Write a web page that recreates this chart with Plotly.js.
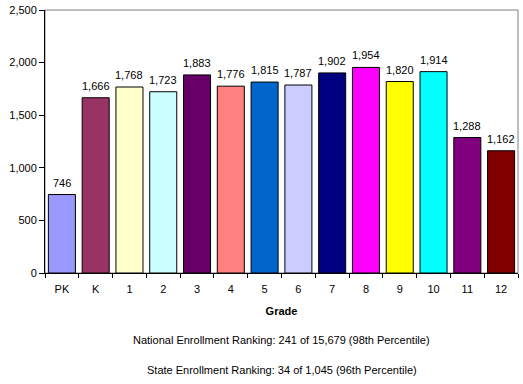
<!DOCTYPE html>
<html><head><meta charset="utf-8">
<script src="https://cdn.plot.ly/plotly-3.0.1.min.js"></script>
<style>html,body{margin:0;padding:0;background:#fff}</style>
</head><body>
<div id="chart" style="width:523px;height:384px"></div>
<script>
const grades = ["PK","K","1","2","3","4","5","6","7","8","9","10","11","12"];
const enrollment = [746,1666,1768,1723,1883,1776,1815,1787,1902,1954,1820,1914,1288,1162];
const barColors = ["#9999FF","#993366","#FFFFCC","#CCFFFF","#660066","#FF8080","#0066CC","#CCCCFF","#000080","#FF00FF","#FFFF00","#00FFFF","#800080","#800000"];
const yTicks = [0,500,1000,1500,2000,2500];
const xTitle = "Grade";
const notes = ["National Enrollment Ranking: 241 of 15,679 (98th Percentile)","State Enrollment Ranking: 34 of 1,045 (96th Percentile)"];

const font = {family: "Liberation Sans, Arial, sans-serif", size: 11, color: "#000"};
// category index positions resolved by the category axis
const valueLabels = grades.map((g, i) => ({
  x: i, y: enrollment[i], xref: "x", yref: "y",
  text: enrollment[i].toLocaleString("en-US"),
  showarrow: false, yanchor: "bottom", yshift: 4, font: font
}));
Plotly.newPlot("chart", [{
  type: "bar",
  x: grades,
  y: enrollment,
  marker: {color: barColors, line: {color: "#000", width: 1}},
  hoverinfo: "none"
}], {
  width: 523, height: 384,
  margin: {l: 45, r: 5, t: 10, b: 111},
  paper_bgcolor: "#fff", plot_bgcolor: "#fff",
  font: font,
  bargap: 0.2,
  showlegend: false,
  xaxis: {
    type: "category",
    showline: true, linecolor: "#000", linewidth: 1,
    ticks: "outside", tickson: "boundaries", ticklen: 4, tickcolor: "#000",
    tickfont: font, ticklabelstandoff: 6,
    title: {text: "<b>" + xTitle + "</b>", font: font, standoff: 13},
    showgrid: false, zeroline: false
  },
  yaxis: {
    range: [0, 2500],
    tickvals: yTicks,
    ticktext: yTicks.map(v => v.toLocaleString("en-US")),
    showline: true, linecolor: "#000", linewidth: 1,
    ticks: "outside", ticklen: 5, tickcolor: "#000",
    tickfont: font,
    showgrid: false, zeroline: false
  },
  shapes: [{type: "rect", xref: "paper", yref: "paper", x0: 0, x1: 1, y0: 0, y1: 1,
            line: {color: "#808080", width: 1}, layer: "below"}],
  annotations: valueLabels.concat([
    {text: notes[0], xref: "paper", yref: "paper", x: 0.5, y: -0.255, yanchor: "middle", showarrow: false, font: font},
    {text: notes[1], xref: "paper", yref: "paper", x: 0.5, y: -0.37, yanchor: "middle", showarrow: false, font: font}
  ])
}, {displayModeBar: false, staticPlot: true});
</script>
</body></html>
